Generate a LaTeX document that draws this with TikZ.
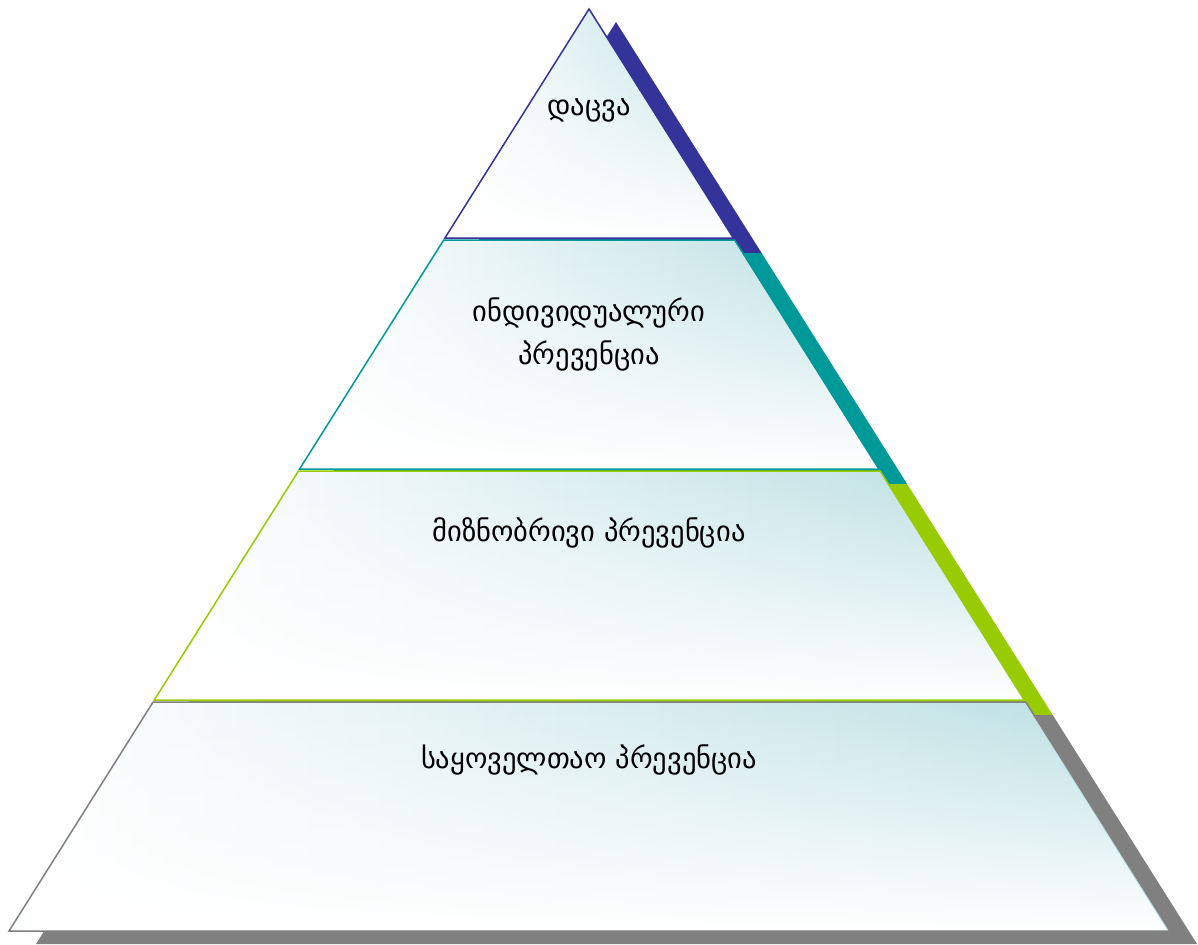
\documentclass[tikz,border=0pt]{standalone}
\usepackage{fontspec}
\newfontfamily\geofont{DejaVu Sans}
\usetikzlibrary{fadings}
\definecolor{lvlnavy}{HTML}{333399}
\definecolor{lvlteal}{HTML}{009999}
\definecolor{lvlgreen}{HTML}{99CC00}
\definecolor{lvlgray}{HTML}{808080}
\definecolor{lvlfill}{RGB}{184,222,226}
\tikzset{
    level/.style={line width=1.5pt, draw=#1},
    shadow/.style={fill=#1, shift={(27,13)}},
    label/.style={font=\geofont\fontsize{28.5}{43}\selectfont, align=center}
}
\newcommand{\lvlshade}[1]{%
    \shade[left color=white, right color=lvlfill] #1;
    \fill[white, path fading=north] #1;}

\begin{document}
\begin{tikzpicture}[x=1pt,y=-1pt]
    \useasboundingbox (0,0) rectangle (1198,944);

    % shadows
    \fill[shadow=lvlnavy] (589,9) -- (734.6,240) -- (443.7,240) -- cycle;
    \fill[shadow=lvlteal] (443.7,240) -- (734.6,240) -- (880.1,471) -- (298.4,471) -- cycle;
    \fill[shadow=lvlgreen] (298.4,471) -- (880.1,471) -- (1025.7,702) -- (153.1,702) -- cycle;
    \fill[shadow=lvlgray] (153.1,702) -- (1025.7,702) -- (1170,931) -- (9,931) -- cycle;

    % levels
    \lvlshade{(589,9) -- (733.3,238) -- (444.9,238) -- cycle}
    \draw[level=lvlnavy] (589,9) -- (733.3,238) -- (444.9,238) -- cycle;
    \lvlshade{(443.7,240) -- (734.6,240) -- (878.9,469) -- (299.6,469) -- cycle}
    \draw[level=lvlteal] (443.7,240) -- (734.6,240) -- (878.9,469) -- (299.6,469) -- cycle;
    \lvlshade{(298.4,471) -- (880.1,471) -- (1024.4,700) -- (154.3,700) -- cycle}
    \draw[level=lvlgreen] (298.4,471) -- (880.1,471) -- (1024.4,700) -- (154.3,700) -- cycle;
    \lvlshade{(153.1,702) -- (1025.7,702) -- (1170,931) -- (9,931) -- cycle}
    \draw[level=lvlgray] (153.1,702) -- (1025.7,702) -- (1170,931) -- (9,931) -- cycle;

    \node[label] (protect) at (589,110) {დაცვა};
    \node[label] (individual) at (589,334) {ინდივიდუალური\\პრევენცია};
    \node[label] (targeted) at (589,533) {მიზნობრივი პრევენცია};
    \node[label] (universal) at (589,760) {საყოველთაო პრევენცია};
\end{tikzpicture}
\end{document}
